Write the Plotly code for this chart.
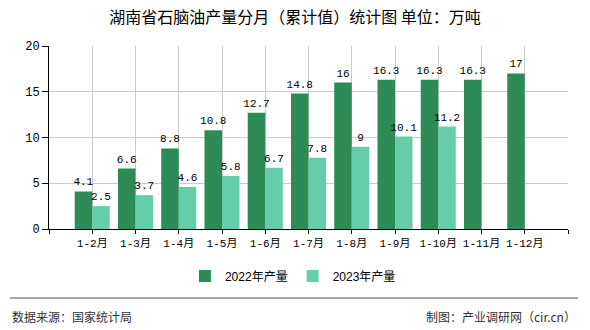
import plotly.graph_objects as go

categories = ["1-2月", "1-3月", "1-4月", "1-5月", "1-6月", "1-7月", "1-8月", "1-9月", "1-10月", "1-11月", "1-12月"]
values_2022 = [4.1, 6.6, 8.8, 10.8, 12.7, 14.8, 16, 16.3, 16.3, 16.3, 17]
values_2023 = [2.5, 3.7, 4.6, 5.8, 6.7, 7.8, 9, 10.1, 11.2, None, None]
yticks = [0, 5, 10, 15, 20]

x_idx = list(range(len(categories)))
mono = "Liberation Mono, Noto Sans CJK SC, monospace"

def fmt(v):
    if v is None:
        return ""
    return ("%g" % v)

fig = go.Figure()
fig.add_trace(go.Bar(
    name="2022年产量", x=x_idx, y=values_2022,
    marker=dict(color="#2e8b57", line=dict(width=0)),
    text=[fmt(v) for v in values_2022], textposition="outside",
    textfont=dict(family=mono, size=11, color="#000"), cliponaxis=False,
))
fig.add_trace(go.Bar(
    name="2023年产量", x=x_idx, y=values_2023,
    marker=dict(color="#66cdaa", line=dict(width=0)),
    text=[fmt(v) for v in values_2023], textposition="outside",
    textfont=dict(family=mono, size=11, color="#000"), cliponaxis=False,
))

tickvals = list(range(-1, len(categories) + 1))
ticktext = [""] + categories + [""]

ph = 330 - 46 - 101
pw = 590 - 49 - 22
def py(ypix):
    return (229 - ypix) / ph
def px(xpix):
    return (xpix - 49) / pw

fig.update_layout(
    width=590, height=330,
    margin=dict(l=49, r=22, t=46, b=101),
    paper_bgcolor="white", plot_bgcolor="white",
    barmode="group", bargap=0.19, bargroupgap=0,
    uniformtext=dict(minsize=11, mode="show"),
    title=dict(text="湖南省石脑油产量分月（累计值）统计图 单位：万吨",
               x=0.5, xanchor="center", y=1 - 17.5 / 330, yanchor="middle",
               yref="container",
               font=dict(family="Noto Sans CJK SC, sans-serif", size=16, color="#000")),
    showlegend=True,
    legend=dict(orientation="h", x=0.47, xanchor="center", y=py(276), yanchor="middle",
                font=dict(family="Liberation Sans, Noto Sans CJK SC, sans-serif", size=12, color="#000"),
                itemwidth=30, traceorder="normal"),
    xaxis=dict(range=[-1, len(categories)], tickmode="array", tickvals=tickvals, ticktext=ticktext,
               showgrid=True, gridcolor="#cccccc", gridwidth=1,
               showline=True, linecolor="#000", linewidth=1,
               ticks="outside", ticklen=4, tickcolor="#000",
               tickfont=dict(family=mono, size=11, color="#000"), zeroline=False, fixedrange=True),
    yaxis=dict(range=[0, 20], tickmode="array", tickvals=yticks,
               showgrid=True, gridcolor="#cccccc", gridwidth=1,
               showline=True, linecolor="#000", linewidth=1,
               ticks="outside", ticklen=6, tickcolor="#000",
               tickfont=dict(family=mono, size=12, color="#000"), zeroline=False),
    shapes=[dict(type="line", xref="paper", yref="paper", x0=px(10), x1=px(578), y0=py(298), y1=py(298),
                 line=dict(color="#888888", width=1.5))],
    annotations=[
        dict(text="数据来源：国家统计局", xref="paper", yref="paper", x=px(10), y=py(316),
             xanchor="left", yanchor="middle", showarrow=False,
             font=dict(family="Noto Sans CJK SC, sans-serif", size=12, color="#333")),
        dict(text="制图：产业调研网（cir.cn）", xref="paper", yref="paper", x=px(578), y=py(316),
             xanchor="right", yanchor="middle", showarrow=False,
             font=dict(family="Noto Sans CJK SC, sans-serif", size=12, color="#333")),
    ],
)

fig.write_html("out.html")
